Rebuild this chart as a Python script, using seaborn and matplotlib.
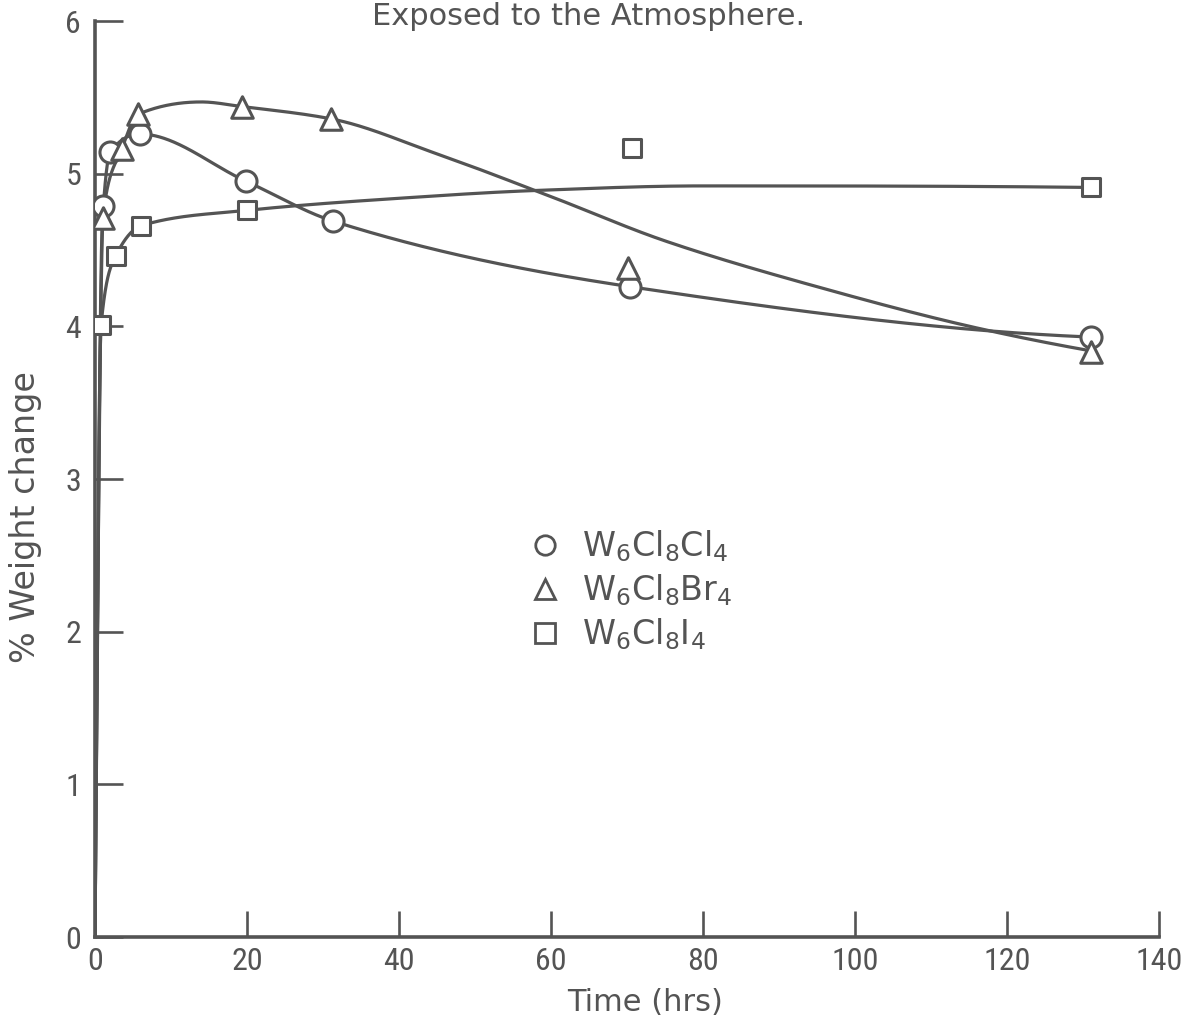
import numpy as np
import pandas as pd
import matplotlib
matplotlib.use("Agg")
import matplotlib.pyplot as plt
from matplotlib.lines import Line2D
from matplotlib import font_manager as fm
import seaborn as sns

# ---- measured weight changes (markers) ----
cl_time = [1.1, 2.0, 5.9, 19.9, 31.3, 70.4, 131.0]
cl_value = [4.79, 5.14, 5.26, 4.95, 4.69, 4.26, 3.93]

br_time = [1.0, 3.5, 5.7, 19.3, 31.0, 70.2, 131.0]
br_value = [4.71, 5.16, 5.39, 5.44, 5.36, 4.38, 3.83]

i_time = [0.8, 2.7, 6.1, 20.0, 70.6, 131.0]
i_value = [4.01, 4.46, 4.66, 4.76, 5.17, 4.91]

# ---- hand-drawn trend curves, read at knots along each curve ----
cl_trend_time = [0, 1.1, 2.0, 5.9, 19.9, 31.3, 70.4, 131.0]
cl_trend_value = [0, 4.79, 5.14, 5.26, 4.95, 4.69, 4.26, 3.93]

br_trend_time = [0, 1.0, 3.5, 5.7, 14.0, 19.3, 31.0, 45.0, 60.0, 75.0, 95.0, 116.0, 131.0]
br_trend_value = [0, 4.71, 5.16, 5.39, 5.47, 5.44, 5.36, 5.13, 4.85, 4.56, 4.26, 3.99, 3.84]

i_trend_time = [0, 0.8, 2.7, 6.1, 20.0, 40.3, 57.9, 79.8, 131.0]
i_trend_value = [0, 4.01, 4.46, 4.66, 4.76, 4.84, 4.89, 4.92, 4.91]

labels = [r"W$_6$Cl$_8$Cl$_4$", r"W$_6$Cl$_8$Br$_4$", r"W$_6$Cl$_8$I$_4$"]
marker_shapes = ["o", "^", "s"]
marker_areas = [230, 240, 170]

x_ticks = [0, 20, 40, 60, 80, 100, 120, 140]
y_ticks = [0, 1, 2, 3, 4, 5, 6]

INK = "#545454"


def pchip(xk, yk, xs):
    """Shape-preserving cubic Hermite used to render a smooth trend line."""
    xk = np.asarray(xk, float)
    yk = np.asarray(yk, float)
    h = np.diff(xk)
    d = np.diff(yk) / h
    n = len(xk)
    m = np.zeros(n)
    for i in range(1, n - 1):
        if d[i - 1] * d[i] <= 0:
            m[i] = 0.0
        else:
            w1 = 2 * h[i] + h[i - 1]
            w2 = h[i] + 2 * h[i - 1]
            m[i] = (w1 + w2) / (w1 / d[i - 1] + w2 / d[i])

    def end_slope(h0, h1, d0, d1):
        s = ((2 * h0 + h1) * d0 - h0 * d1) / (h0 + h1)
        if np.sign(s) != np.sign(d0):
            s = 0.0
        elif np.sign(d0) != np.sign(d1) and abs(s) > abs(3 * d0):
            s = 3 * d0
        return s

    m[0] = end_slope(h[0], h[1], d[0], d[1])
    m[-1] = end_slope(h[-1], h[-2], d[-1], d[-2])
    idx = np.clip(np.searchsorted(xk, xs) - 1, 0, n - 2)
    t = (xs - xk[idx]) / h[idx]
    h00 = 2 * t**3 - 3 * t**2 + 1
    h10 = t**3 - 2 * t**2 + t
    h01 = -2 * t**3 + 3 * t**2
    h11 = t**3 - t**2
    return (h00 * yk[idx] + h10 * h[idx] * m[idx]
            + h01 * yk[idx + 1] + h11 * h[idx] * m[idx + 1])


sns.set_theme(style="white")
plt.rcParams["font.family"] = ["DejaVu Sans"]
plt.rcParams["mathtext.fontset"] = "dejavusans"

# narrow face for the axis numerals when one is installed
installed = {f.name for f in fm.fontManager.ttflist}
NUM_FONT = next((c for c in ["Roboto Condensed", "Liberation Sans Narrow",
                             "DejaVu Sans"] if c in installed), "DejaVu Sans")

fig = plt.figure(figsize=(11.86, 10.26), dpi=100)
fig.patch.set_facecolor("white")
ax = fig.add_axes([0.0801, 0.0867, 0.8971, 0.8928])
ax.set_facecolor("white")

trends = [(cl_trend_time, cl_trend_value),
          (br_trend_time, br_trend_value),
          (i_trend_time, i_trend_value)]
for tx, ty in trends:
    xs = np.linspace(tx[0], tx[-1], 1200)
    xs = np.unique(np.concatenate([xs, np.linspace(0, 3, 200)]))
    curve = pd.DataFrame({"t": xs, "w": pchip(tx, ty, xs)})
    sns.lineplot(data=curve, x="t", y="w", ax=ax, color=INK, lw=2.3,
                 estimator=None, sort=False, legend=False, zorder=2)

points = pd.concat([
    pd.DataFrame({"t": cl_time, "w": cl_value, "compound": labels[0]}),
    pd.DataFrame({"t": br_time, "w": br_value, "compound": labels[1]}),
    pd.DataFrame({"t": i_time, "w": i_value, "compound": labels[2]}),
], ignore_index=True)
for lab, mk, area in zip(labels, marker_shapes, marker_areas):
    sub = points[points["compound"] == lab]
    sns.scatterplot(data=sub, x="t", y="w", ax=ax, marker=mk,
                    s=area, color="white", edgecolor=INK,
                    linewidth=2.2, legend=False, zorder=3)

ax.set_xlim(0, 140)
ax.set_ylim(0, 6)
ax.set_xticks(x_ticks)
ax.set_yticks(y_ticks)
ax.set_xticklabels([str(v) for v in x_ticks])
ax.set_yticklabels([str(v) for v in y_ticks])
for lab in ax.get_xticklabels() + ax.get_yticklabels():
    lab.set_fontfamily(NUM_FONT)

for side in ["top", "right"]:
    ax.spines[side].set_visible(False)
for side in ["left", "bottom"]:
    ax.spines[side].set_color(INK)
    ax.spines[side].set_linewidth(2.6)

ax.tick_params(axis="x", bottom=True, direction="in", length=19, width=1.9,
               color=INK, labelsize=23, labelcolor=INK, pad=7)
ax.tick_params(axis="y", left=True, direction="in", length=20, width=1.9,
               color=INK, labelsize=23, labelcolor=INK, pad=10)

ax.set_xlabel("Time (hrs)", fontsize=22, color=INK)
ax.xaxis.set_label_coords(0.517, -0.0555)
ax.set_ylabel("% Weight change", fontsize=24, color=INK)
ax.yaxis.set_label_coords(-0.050, 0.4585)

fig.text(0.4966, 0.9756, "Exposed to the Atmosphere.", ha="center",
         va="baseline", fontsize=22, color=INK)

handles = [Line2D([], [], linestyle="none", marker=mk, markersize=14,
                  markerfacecolor="white", markeredgecolor=INK,
                  markeredgewidth=2.0) for mk in marker_shapes]
leg = ax.legend(handles, labels, loc="upper left",
                bbox_to_anchor=(0.392, 0.4645), frameon=False,
                fontsize=24, handlelength=1.0, handletextpad=0.6,
                labelspacing=0.25, borderpad=0)
for txt in leg.get_texts():
    txt.set_color(INK)

fig.savefig("out.png", dpi=100, facecolor="white")
